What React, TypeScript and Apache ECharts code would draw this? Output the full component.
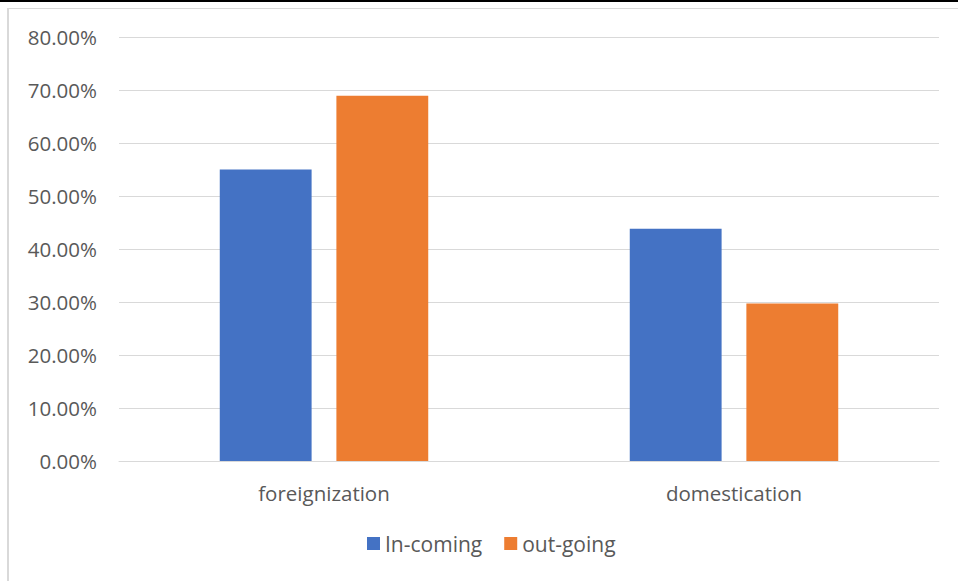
import React, { useEffect, useRef } from "react";
import * as echarts from "echarts";

const categories = ["foreignization", "domestication"];
const incoming = [55.0, 43.8];
const outgoing = [68.9, 29.7];
const seriesNames = ["In-coming", "out-going"];

export default function App() {
  const ref = useRef<HTMLDivElement>(null);
  useEffect(() => {
    if (!ref.current) return;
    const chart = echarts.init(ref.current, undefined, { renderer: "svg" });
    const font = "'Open Sans', sans-serif";
    chart.setOption({
      animation: false,
      textStyle: { fontFamily: font },
      grid: { left: 119, right: 19, top: 37, bottom: 120 },
      legend: {
        data: seriesNames,
        bottom: 22,
        left: 362,
        itemWidth: 13,
        itemHeight: 13,
        itemGap: 22,
        icon: "rect",
        textStyle: { color: "#595959", fontSize: 21, fontFamily: font },
      },
      xAxis: {
        type: "category",
        data: categories,
        axisLine: { lineStyle: { color: "#d9d9d9", width: 1 } },
        axisTick: { show: false },
        axisLabel: { color: "#595959", fontSize: 20.5, margin: 21, fontFamily: font },
      },
      yAxis: {
        type: "value",
        min: 0,
        max: 80,
        interval: 10,
        axisLine: { show: false },
        axisTick: { show: false },
        splitLine: { lineStyle: { color: "#d9d9d9", width: 1 } },
        axisLabel: {
          color: "#595959",
          fontSize: 20.5,
          margin: 22,
          fontFamily: font,
          formatter: (v: number) => v.toFixed(2) + "%",
        },
      },
      series: [
        {
          name: seriesNames[0],
          type: "bar",
          data: incoming,
          barWidth: "22.4%",
          barGap: "27%",
          itemStyle: { color: "#4472c4" },
        },
        {
          name: seriesNames[1],
          type: "bar",
          data: outgoing,
          barWidth: "22.4%",
          barGap: "27%",
          itemStyle: { color: "#ed7d31" },
        },
      ],
    });
    return () => chart.dispose();
  }, []);
  return (
    <div style={{ position: "fixed", left: 0, top: 0, width: 958, height: 581, background: "#fff", overflow: "hidden" }}>
      <div style={{ position: "absolute", left: 0, top: 0, width: 958, height: 2, background: "#000" }} />
      <div
        style={{
          position: "absolute",
          left: 7,
          top: 8,
          width: 960,
          height: 580,
          borderLeft: "2px solid #d9d9d9",
          borderTop: "1px solid #d9d9d9",
          boxSizing: "border-box",
        }}
      />
      <div ref={ref} style={{ position: "absolute", left: 0, top: 0, width: 958, height: 581 }} />
    </div>
  );
}
